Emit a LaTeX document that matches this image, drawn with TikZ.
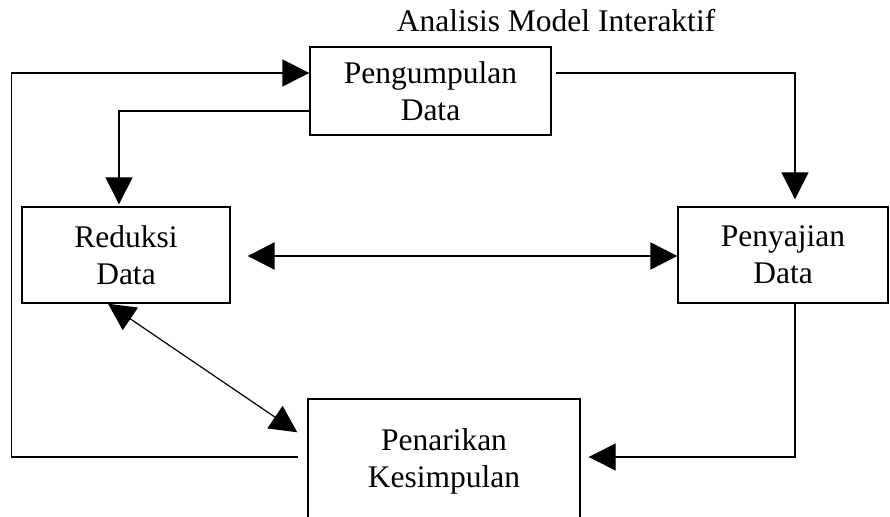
\documentclass[tikz,border=0pt]{standalone}
\usepackage{fontspec}
\setmainfont{Liberation Serif}
\usetikzlibrary{positioning,arrows.meta}

\begin{document}
\begin{tikzpicture}[x=0.5pt, y=-0.5pt, on grid=true,
    block/.style = {draw, line width=0.7pt, inner sep=0pt, align=center, font=\fontsize{15.75}{18.5}\selectfont},
    flow/.style = {line width=0.7pt, -{Triangle[length=13.5pt,width=13.5pt]}},
    both/.style = {line width=0.6pt, {Triangle[length=13.5pt,width=13.5pt]}-{Triangle[length=13.5pt,width=13.5pt]}}]
        \clip (0,0) rectangle (890,517);

        \node[font=\fontsize{15.75}{18.5}\selectfont, anchor=base] (judul) at (556,32) {Analisis Model Interaktif};
        \node[block, minimum width=120.5pt, minimum height=44pt] (kumpul) at (430.5,91) {Pengumpulan\\Data};
        \node[block, minimum width=104pt, minimum height=48pt] (reduksi) [below left=82pt and 152.25pt of kumpul] {Reduksi\\Data};
        \node[block, minimum width=105pt, minimum height=48pt] (sajian) [right=328.5pt of reduksi] {Penyajian\\Data};
        \node[block, minimum width=136pt, minimum height=62pt] (tarik) [below right=103pt and 159pt of reduksi] {Penarikan\\Kesimpulan};

        \draw[flow] ([shift={(4,-18)}]kumpul.east) -| ([shift={(12,-7)}]sajian.north);
        \draw[flow] ([shift={(0,20)}]kumpul.west) -| ([shift={(-7,-2)}]reduksi.north);
        \draw[flow] ([shift={(-9,-4)}]tarik.west) -- ++(-287,0) |- ([shift={(0,-18)}]kumpul.west);
        \draw[flow] ([shift={(12,0)}]sajian.south) |- ([shift={(8,-4)}]tarik.east);
        \draw[both, line width=1.2pt] ([shift={(17,1)}]reduksi.east) -- ([shift={(0,1)}]sajian.west);
        \draw[both] ([shift={(-18,0)}]reduksi.south) -- ([shift={(-10,34)}]tarik.north west);
\end{tikzpicture}
\end{document}
